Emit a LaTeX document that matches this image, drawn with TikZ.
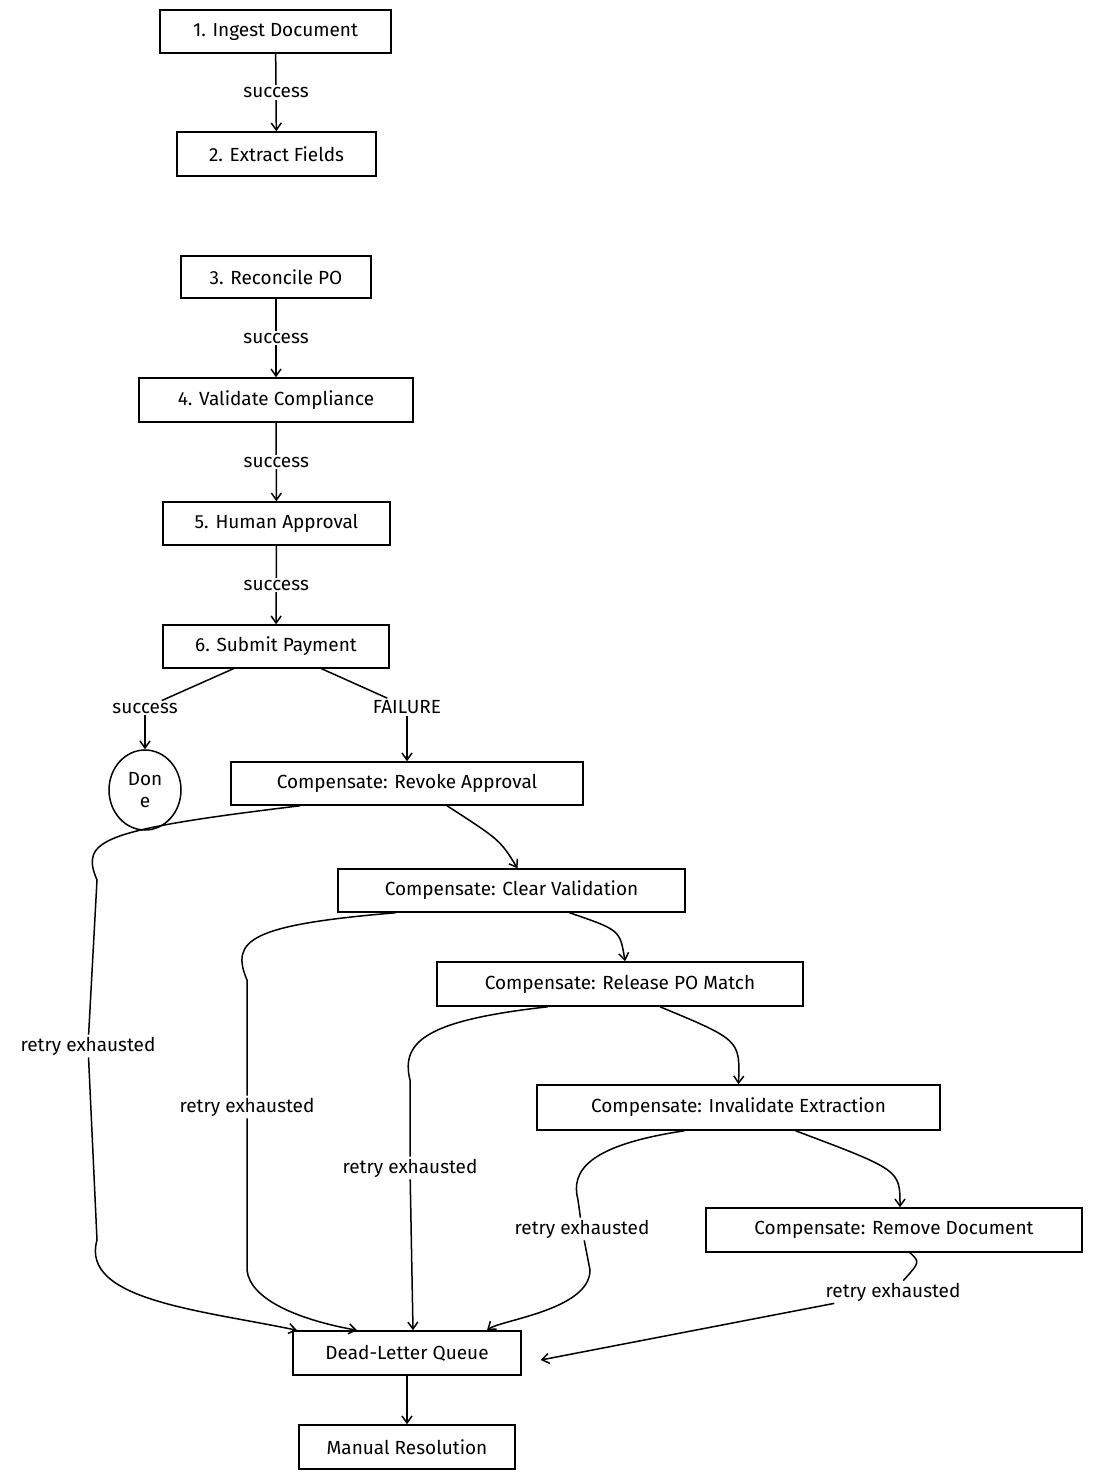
\documentclass[tikz,border=0pt]{standalone}
\usepackage{fontspec}
\setmainfont{Fira Sans}
\usetikzlibrary{arrows.meta,shapes.geometric}
\begin{document}
\begin{tikzpicture}[x=1pt,y=-1pt,
  box/.style={draw,line width=1.5pt,inner sep=0pt,font=\fontsize{19}{22}\selectfont},
  lbl/.style={fill=white,inner sep=2pt,font=\fontsize{19}{22}\selectfont},
  arr/.style={line width=1.5pt,-{Straight Barb[length=7pt,width=10pt]}},
  ln/.style={line width=1.5pt}]
\useasboundingbox (0,0) rectangle (1092,1480);
\node[box,minimum width=231pt,minimum height=43pt] (n1) at (275.5,31.5) {1. Ingest Document};
\node[box,minimum width=199pt,minimum height=44pt] (n2) at (276.5,154) {2. Extract Fields};
\node[box,minimum width=190pt,minimum height=42pt] (n3) at (276,277) {3. Reconcile PO};
\node[box,minimum width=274pt,minimum height=44pt] (n4) at (276,400) {4. Validate Compliance};
\node[box,minimum width=227pt,minimum height=43pt] (n5) at (276.5,523.5) {5. Human Approval};
\node[box,minimum width=226pt,minimum height=43pt] (n6) at (276,646.5) {6. Submit Payment};
\node[box,ellipse,minimum width=72pt,minimum height=80pt,align=center] (done) at (145,790) {Don\\e};
\node[box,minimum width=352pt,minimum height=43pt] (c1) at (407,783.5) {Compensate: Revoke Approval};
\node[box,minimum width=347pt,minimum height=43pt] (c2) at (511.5,890.5) {Compensate: Clear Validation};
\node[box,minimum width=366pt,minimum height=44pt] (c3) at (620,984) {Compensate: Release PO Match};
\node[box,minimum width=403pt,minimum height=45pt] (c4) at (738.5,1107.5) {Compensate: Invalidate Extraction};
\node[box,minimum width=376pt,minimum height=44pt] (c5) at (894,1230) {Compensate: Remove Document};
\node[box,minimum width=228pt,minimum height=44pt] (dlq) at (407,1353) {Dead-Letter Queue};
\node[box,minimum width=216pt,minimum height=44pt] (man) at (407,1447) {Manual Resolution};

\draw[arr] (n1) -- node[lbl]{success} (n2);
\draw[arr] (n3) -- node[lbl]{success} (n4);
\draw[arr] (n4) -- node[lbl]{success} (n5);
\draw[arr] (n5) -- node[lbl]{success} (n6);
\coordinate (s6a) at (235,668); \coordinate (s6b) at (320,668);
\node[lbl] (ls) at (145,708) {success};
\node[lbl] (lf) at (407,707) {FAILURE};
\draw[ln] (s6a) -- (ls);
\draw[arr] (ls) -- (done);
\draw[ln] (s6b) -- (lf);
\draw[arr] (lf) -- (c1);
\draw[arr] ([xshift=40pt]c1.south) .. controls (500,840) .. ([xshift=6pt]c2.north);
\draw[arr] ([xshift=58pt]c2.south) .. controls (620,930) .. ([xshift=5pt]c3.north);
\draw[arr] ([xshift=40pt]c3.south) .. controls (740,1040) .. ([xshift=0pt]c4.north);
\draw[arr] ([xshift=57pt]c4.south) .. controls (900,1170) .. ([xshift=6pt]c5.north);
\node[lbl] (r1) at (88,1046) {retry exhausted};
\node[lbl] (r2) at (247,1107) {retry exhausted};
\node[lbl] (r3) at (410,1168) {retry exhausted};
\node[lbl] (r4) at (582,1229) {retry exhausted};
\node[lbl] (r5) at (893,1292) {retry exhausted};
\draw[ln] ([xshift=-107pt]c1.south) .. controls (100,830) and (80,840) .. (97,880) -- (r1);
\draw[arr] (r1) -- (97,1240) .. controls (80,1300) and (200,1310) .. ([xshift=-110pt]dlq.north);
\draw[ln] ([xshift=-116pt]c2.south) .. controls (250,925) and (230,940) .. (247,980) -- (r2);
\draw[arr] (r2) -- (247,1270) .. controls (250,1300) and (300,1320) .. ([xshift=-50pt]dlq.north);
\draw[ln] ([xshift=-72pt]c3.south) .. controls (430,1020) and (400,1040) .. (410,1080) -- (r3);
\draw[arr] (r3) -- ([xshift=6pt]dlq.north);
\draw[ln] ([xshift=-54pt]c4.south) .. controls (590,1145) and (570,1170) .. (578,1200) -- (r4);
\draw[arr] (r4) -- (590,1270) .. controls (590,1310) and (500,1320) .. ([xshift=80pt]dlq.north);
\draw[ln] ([xshift=16pt]c5.south) .. controls (920,1262) .. (r5);
\draw[arr] (r5) -- ([xshift=19pt,yshift=-7pt]dlq.east);
\draw[arr] (dlq) -- (man);
\end{tikzpicture}
\end{document}
